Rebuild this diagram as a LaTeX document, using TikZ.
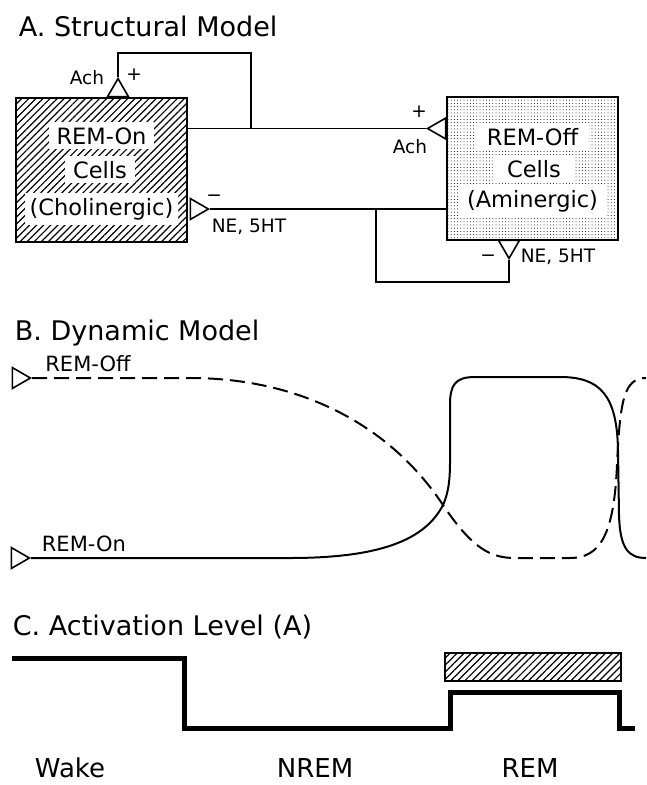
\documentclass[tikz,border=0pt]{standalone}
\usepackage{fontspec}
\setmainfont{DejaVu Sans}
\usepackage{tikz}
\usetikzlibrary{shapes.geometric,patterns.meta}

\begin{document}
\begin{tikzpicture}[x=1pt, y=-1pt, line width=1.8pt,
  ttl/.style={font=\fontsize{27}{28}\selectfont, anchor=base west, inner sep=0pt},
  celltxt/.style={font=\fontsize{22.5}{24}\selectfont, fill=white, anchor=base,
                  inner xsep=8pt, inner ysep=5pt},
  lbl/.style={font=\fontsize{18.5}{20}\selectfont, inner sep=0pt},
  trace/.style={font=\fontsize{21}{22}\selectfont, anchor=base west, inner sep=0pt},
  stage/.style={font=\fontsize{26}{28}\selectfont, anchor=base, inner sep=0pt},
  cell/.style={rectangle, draw, line width=2pt, inner sep=0pt,
               minimum width=171pt, minimum height=144pt},
  syn/.style={regular polygon, regular polygon sides=3, draw, fill=white,
              minimum size=24pt, inner sep=0pt, line width=1.6pt, anchor=corner 1},
  hatch/.style={pattern={Lines[angle=45,distance=5pt,line width=1.2pt]}},
  stipple/.style={pattern={Dots[distance=3.2pt,radius=0.5pt]}}]
  \useasboundingbox (0,0) rectangle (646,785);

  % A. structural model
  \node[ttl] (tA) at (18,36) {A. Structural Model};
  \node[cell, hatch] (on) at (101.5,170) {};
  \node[cell, stipple, minimum height=143pt] (off) at (532.5,168.5) {};
  \node[celltxt] (on1) at (101.5,144) {REM-On};
  \node[celltxt] (on2) at (100,178) {Cells};
  \node[celltxt, inner xsep=5pt] (on3) at (101.5,215) {(Cholinergic)};
  \node[celltxt, inner xsep=11pt] (off1) at (532.5,145) {REM-Off};
  \node[celltxt, inner xsep=14pt] (off2) at (534,177) {Cells};
  \node[celltxt] (off3) at (532.5,207) {(Aminergic)};

  \node[syn, shape border rotate=90] (achOff) at (426,128.5) {};
  \node[syn, shape border rotate=0] (achOn) at (118,77) {};
  \node[syn, shape border rotate=-90] (amOn) at (210,209) {};
  \node[syn, shape border rotate=180] (amOff) at (509,260) {};

  \coordinate (jA) at (251,128.5);
  \coordinate (topA) at (251,53);
  \coordinate (jB) at (376,209);
  \coordinate (botB) at (376,282);
  \draw (on.east |- achOff.corner 1) -- (achOff.corner 1);
  \draw (jA) -- (topA) -| (achOn.corner 1);
  \draw (off.west |- amOn.corner 1) -- (amOn.corner 1);
  \draw (jB) -- (botB) -| (amOff.corner 1);

  \node[lbl] (l1) at (87,78) {Ach};
  \node[lbl] (l2) at (134,75) {+};
  \node[lbl] (l3) at (419,112) {+};
  \node[lbl] (l4) at (410,147) {Ach};
  \node[lbl] (l5) at (214,198) {−};
  \node[lbl, anchor=west] (l6) at (211,227) {NE, 5HT};
  \node[lbl] (l7) at (488,258) {−};
  \node[lbl, anchor=west] (l8) at (520,257) {NE, 5HT};

  % B. dynamic model
  \node[ttl] (tB) at (14,340) {B. Dynamic Model};
  \node[syn, shape border rotate=-90] (offIn) at (32,378) {};
  \node[syn, shape border rotate=-90] (onIn) at (31,558) {};
  \node[trace] (lOff) at (44.5,371) {REM-Off};
  \node[trace] (lOn) at (41,551) {REM-On};
  \draw[line width=2pt, dash pattern=on 15pt off 7pt] (offIn.corner 1) -- (190,378)
    .. controls (300,378) and (390,425) .. (443,505)
    .. controls (472,548) and (490,558) .. (515,558) -- (570,558)
    .. controls (600,558) and (614,535) .. (617,465)
    .. controls (620,400) and (624,378) .. (646,378);
  \draw[line width=2pt] (onIn.corner 1) -- (290,558)
    .. controls (380,558) and (425,540) .. (443,505)
    .. controls (451,487) and (450,470) .. (450,440) -- (450,405)
    .. controls (450,385) and (455,377) .. (475,377) -- (560,377)
    .. controls (600,377) and (617,395) .. (618,450) -- (619,515)
    .. controls (620,548) and (628,558) .. (646,558);

  % C. activation level
  \node[ttl] (tC) at (12,635) {C. Activation Level (A)};
  \node[rectangle, draw, line width=1.5pt, hatch, minimum width=176pt,
        minimum height=28pt] (remBar) at (533,667) {};
  \draw[line width=5pt, line join=miter] (12,658) -- (184,658) -- (184,728)
    -- (450,728) -- (450,692) -- (619,692) -- (619,728) -- (635,728);
  \node[stage] (wake) at (70,777) {Wake};
  \node[stage] (nrem) at (315,777) {NREM};
  \node[stage] (rem) at (530,777) {REM};
\end{tikzpicture}
\end{document}
